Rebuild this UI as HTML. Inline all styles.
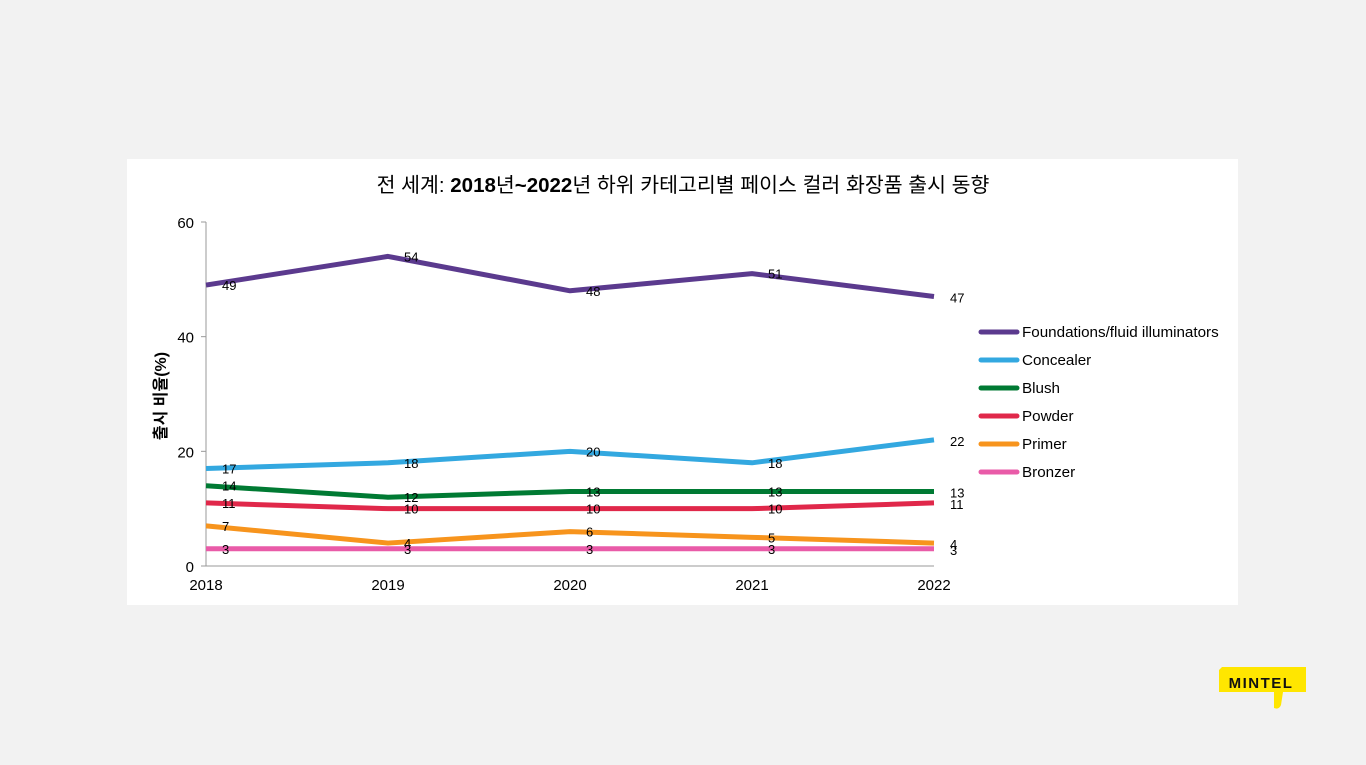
<!DOCTYPE html>
<html><head><meta charset="utf-8"><style>
body{margin:0;width:1366px;height:765px;background:#f2f2f2;overflow:hidden;font-family:"Liberation Sans","Noto Sans CJK KR",sans-serif}
#card{position:absolute;left:127px;top:159px;width:1111px;height:446px;background:#fff}
svg text{font-family:"Liberation Sans","Noto Sans CJK KR",sans-serif}
</style></head><body>
<div id="card"></div>
<svg id="chart" width="1366" height="765" style="position:absolute;left:0;top:0">
<text x="683" y="192" text-anchor="middle" font-size="20.5" fill="#000">전 세계: <tspan font-weight="bold">2018</tspan>년<tspan font-weight="bold">~2022</tspan>년 하위 카테고리별 페이스 컬러 화장품 출시 동향</text>
<text transform="translate(166,396) rotate(-90)" text-anchor="middle" font-size="16" font-weight="bold">출시 비율(%)</text>
<g id="axes"></g><g id="series"></g><g id="legend"></g>
<g>
<path d="M1222 667 H1306 V692 H1283 L1281 705 Q1279 710 1274 708 L1274 692 H1219 V670 Z" fill="#ffe600"/>
<text x="1261" y="688" text-anchor="middle" font-size="15" font-weight="bold" letter-spacing="1.5" fill="#111">MINTEL</text>
</g>
</svg>
<script>
const years=["2018","2019","2020","2021","2022"];
const seriesNames=["Foundations/fluid illuminators","Concealer","Blush","Powder","Primer","Bronzer"];
const colors=["#5b3a8e","#33a8e0","#007a33","#e0284a","#f7941d","#e95ba8"];
const foundations=[49,54,48,51,47];
const concealer=[17,18,20,18,22];
const blush=[14,12,13,13,13];
const powder=[11,10,10,10,11];
const primer=[7,4,6,5,4];
const bronzer=[3,3,3,3,3];
const yTicks=[0,20,40,60];
const allSeries=[foundations,concealer,blush,powder,primer,bronzer];
const NS="http://www.w3.org/2000/svg";
const x=i=>206+i*(934-206)/(years.length-1);
const y=v=>566-v*(566-222)/60;
function mk(t,a,p){const e=document.createElementNS(NS,t);for(const k in a)e.setAttribute(k,a[k]);p.appendChild(e);return e;}
const ax=document.getElementById('axes');
let l=mk('line',{x1:206,y1:222,x2:206,y2:566,stroke:'#999','stroke-width':1},ax);


l=mk('line',{x1:206,y1:566,x2:934,y2:566,stroke:'#999','stroke-width':1},ax);


yTicks.forEach(v=>{
 mk('line',{x1:201,y1:y(v),x2:206,y2:y(v),stroke:'#999'},ax);
 const t=mk('text',{x:194,y:y(v)+6,'text-anchor':'end','font-size':15},ax);t.textContent=v;
 
 
});
years.forEach((yr,i)=>{
 const t=mk('text',{x:x(i),y:590,'text-anchor':'middle','font-size':15},ax);t.textContent=yr;
 
 
});
const sg=document.getElementById('series');
allSeries.forEach((s,k)=>{
 const p=mk('polyline',{points:s.map((v,i)=>x(i)+','+y(v)).join(' '),fill:'none',stroke:colors[k],'stroke-width':5,'stroke-linejoin':'round'},sg);
 
 
 s.forEach((v,i)=>{
  const t=mk('text',{x:x(i)+16,y:y(v)+(i==4?6:5),'font-size':13},sg);t.textContent=v;
  
  
 });
});
const lg=document.getElementById('legend');
seriesNames.forEach((n,k)=>{
 const yy=332+k*28;
 const ln=mk('line',{x1:981,y1:yy,x2:1017,y2:yy,stroke:colors[k],'stroke-width':5,'stroke-linecap':'round'},lg);
 
 
 const t=mk('text',{x:1022,y:yy+5,'font-size':15.2},lg);t.textContent=n;
 
 
});
</script>
</body></html>
